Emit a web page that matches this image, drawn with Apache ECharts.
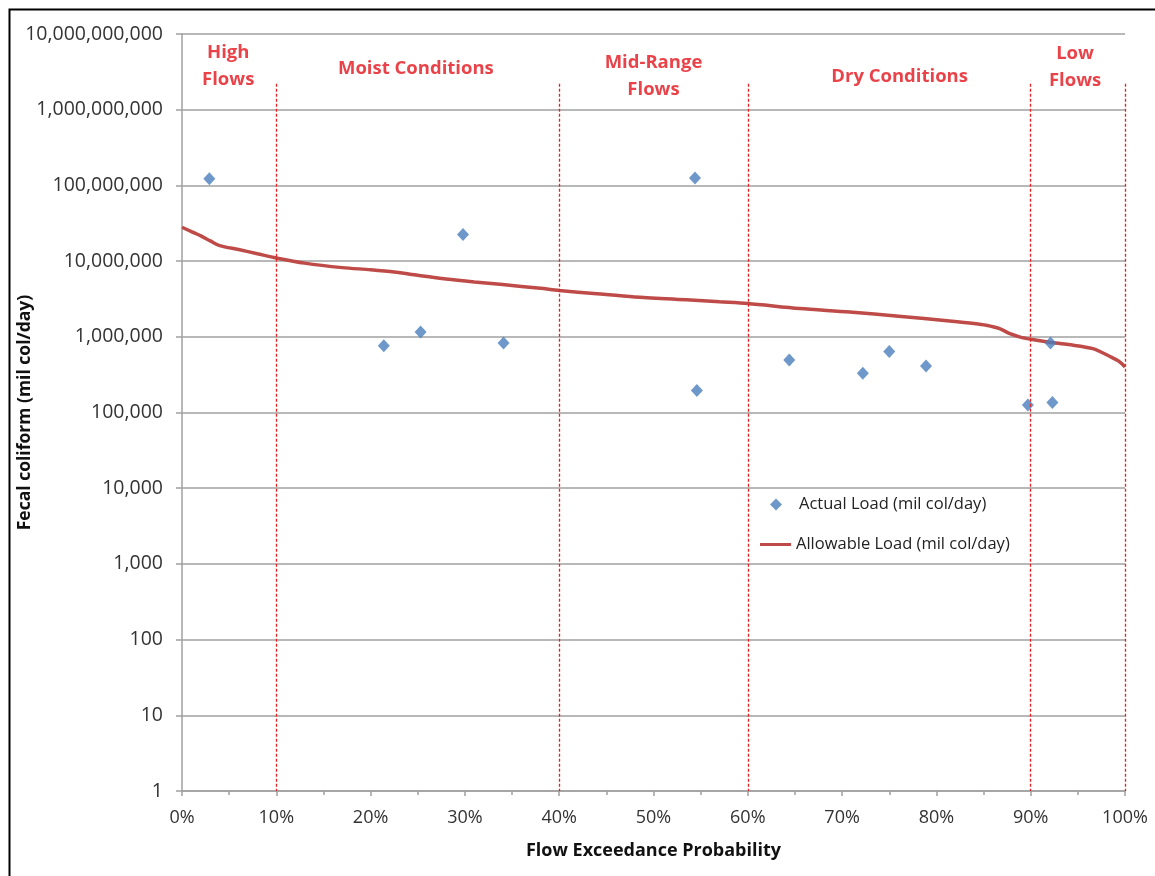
<!DOCTYPE html>
<html>
<head>
<meta charset="utf-8">
<script src="https://cdn.jsdelivr.net/npm/echarts@6/dist/echarts.min.js"></script>
<style>
html,body{margin:0;padding:0;background:#fff;}
#chart{width:1155px;height:876px;}
</style>
</head>
<body>
<div id="chart"></div>
<script>
// Actual load samples: flow exceedance (%) and load (mil col/day)
const actualX = [2.9, 21.4, 25.3, 29.8, 34.1, 54.4, 54.6, 64.4, 72.2, 75.0, 78.9, 89.7, 92.1, 92.3];
const actualY = [1.22e8, 7.6e5, 1.16e6, 2.24e7, 8.3e5, 1.25e8, 1.96e5, 4.94e5, 3.3e5, 6.4e5, 4.1e5, 1.26e5, 8.3e5, 1.36e5];

// Allowable load duration curve
const allowX = [0, 1, 2, 3, 4, 6, 8, 10, 13, 17, 20, 22.5, 25, 28, 31, 34, 38, 40, 44, 48, 53.5, 57, 60, 65.5, 70.8, 76, 81.4, 84, 85.3, 86.7, 87.8, 88.9, 90, 92, 94, 96.6, 98.4, 99.3, 100];
const allowY = [2.8e7, 2.45e7, 2.15e7, 1.85e7, 1.6e7, 1.42e7, 1.25e7, 1.1e7, 9.4e6, 8.2e6, 7.7e6, 7.2e6, 6.5e6, 5.8e6, 5.3e6, 4.9e6, 4.37e6, 4.1e6, 3.7e6, 3.36e6, 3.09e6, 2.9e6, 2.75e6, 2.36e6, 2.13e6, 1.87e6, 1.62e6, 1.5e6, 1.42e6, 1.28e6, 1.1e6, 9.9e5, 9.3e5, 8.5e5, 7.9e5, 6.98e5, 5.5e5, 4.8e5, 4.0e5];

// Flow zone boundaries and labels
const zoneBounds = [10, 40, 60, 90, 100];
const zoneLineTop = 2.2e9;
const zoneNames = ['High\nFlows', 'Moist Conditions', 'Mid-Range\nFlows', 'Dry Conditions', 'Low\nFlows'];
const zoneX = [4.9, 24.8, 50.0, 76.1, 94.7];
const zoneY = [3.7e9, 3.5e9, 2.8e9, 2.7e9, 3.65e9];

const font = 'Open Sans';
const chart = echarts.init(document.getElementById('chart'), null, {renderer: 'canvas'});

const option = {
  backgroundColor: '#fff',
  animation: false,
  textStyle: {fontFamily: font},
  graphic: [{
    type: 'rect', left: 7, top: 7,
    shape: {width: 1200, height: 900},
    style: {fill: 'none', stroke: '#000', lineWidth: 2}, silent: true, z: -1
  }],
  grid: {left: 182, right: 30, top: 34, bottom: 85, containLabel: false, outerBoundsMode: 'none'},
  legend: [
    {
      orient: 'vertical', left: 765, top: 491,
      itemWidth: 12, itemHeight: 12, itemGap: 10,
      textStyle: {fontFamily: font, fontSize: 16.5, color: '#222', padding: [0, 0, 0, 12]},
      data: [{name: 'Actual Load (mil col/day)', icon: 'diamond'}]
    },
    {
      orient: 'vertical', left: 755, top: 531,
      itemWidth: 31, itemHeight: 3, itemGap: 4,
      textStyle: {fontFamily: font, fontSize: 16.5, color: '#222'},
      data: [{name: 'Allowable Load (mil col/day)', icon: 'rect'}]
    }
  ],
  xAxis: {
    type: 'value', min: 0, max: 100, interval: 10,
    name: 'Flow Exceedance Probability', nameLocation: 'middle', nameGap: 51,
    nameTextStyle: {fontFamily: font, fontSize: 18, fontWeight: 'bold', color: '#111'},
    axisLine: {show: true, lineStyle: {color: '#a0a0a0', width: 1.5}},
    axisTick: {show: true, length: 5, lineStyle: {color: '#a0a0a0', width: 1.5}},
    minorTick: {show: true, splitNumber: 2, length: 4, lineStyle: {color: '#a0a0a0', width: 1.5}},
    splitLine: {show: false},
    axisLabel: {fontFamily: font, fontSize: 18, color: '#333', margin: 18,
      formatter: v => v + '%'}
  },
  yAxis: {
    type: 'log', logBase: 10, min: 1, max: 1e10, interval: 1, splitNumber: 10,
    name: 'Fecal coliform (mil col/day)', nameLocation: 'middle', nameGap: 148,
    nameMoveOverlap: false,
    nameRotate: 90,
    nameTextStyle: {fontFamily: font, fontSize: 17.5, fontWeight: 'bold', color: '#111'},
    axisLine: {show: true, lineStyle: {color: '#a0a0a0', width: 1.5}},
    axisTick: {show: true, length: 6, lineStyle: {color: '#a0a0a0', width: 1.5}},
    splitLine: {show: true, lineStyle: {color: '#a0a0a0', width: 1.5}},
    axisLabel: {fontFamily: font, fontSize: 19.5, color: '#333', margin: 19,
      formatter: v => Math.round(v).toLocaleString('en-US')}
  },
  series: [
    {
      name: 'Allowable Load (mil col/day)', type: 'line',
      data: allowX.map((x, i) => [x, allowY[i]]),
      showSymbol: false, smooth: 0.3,
      lineStyle: {color: '#be4b48', width: 3.5},
      itemStyle: {color: '#be4b48'},
      z: 3,
      markLine: {
        silent: true, symbol: 'none', animation: false,
        lineStyle: {color: '#e8201f', type: [3, 2], width: 1.3},
        label: {show: false},
        data: zoneBounds.map(b => [{coord: [b, zoneLineTop]}, {coord: [b, 1]}])
      }
    },
    {
      name: 'Actual Load (mil col/day)', type: 'scatter',
      data: actualX.map((x, i) => [x, actualY[i]]),
      symbol: 'diamond', symbolSize: [12, 13],
      itemStyle: {color: '#4a7ebb'},
      z: 4
    },
    {
      name: 'zones', type: 'scatter', silent: true,
      data: zoneNames.map((n, i) => ({value: [zoneX[i], zoneY[i]], name: n})),
      symbolSize: 1, itemStyle: {color: 'rgba(0,0,0,0)'},
      label: {show: true, position: 'inside', formatter: p => p.name,
        fontFamily: font, fontSize: 18.5, fontWeight: 'bold', color: '#e3141c',
        lineHeight: 27, align: 'center', verticalAlign: 'middle'},
      z: 5
    }
  ]
};
chart.setOption(option);
</script>
</body>
</html>
